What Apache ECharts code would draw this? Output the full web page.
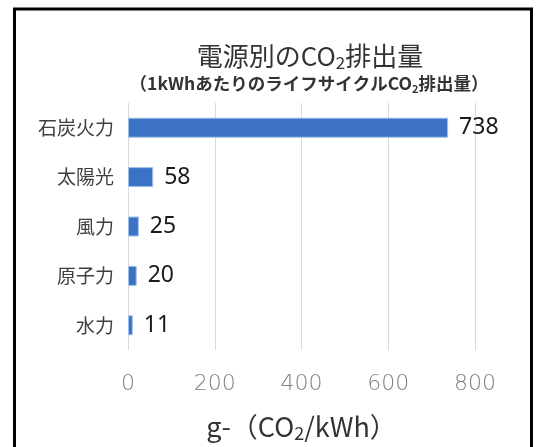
<!DOCTYPE html>
<html><head><meta charset="utf-8">
<script src="https://cdn.jsdelivr.net/npm/echarts@6/dist/echarts.min.js"></script>
<style>html,body{margin:0;padding:0;background:#fff}#c{width:537px;height:447px}</style>
</head><body><div id="c"></div>
<script>
const categories = ['石炭火力', '太陽光', '風力', '原子力', '水力'];
const values = [738, 58, 25, 20, 11];
const xTicks = [0, 200, 400, 600, 800];
const titleText = '電源別のCO{s|2}排出量';
const subtitleText = '（1kWhあたりのライフサイクルCO{s|2}排出量）';
const axisName = 'g-（CO{s|2}/kWh）';

const chart = echarts.init(document.getElementById('c'), null, {renderer: 'canvas'});
const cjk = '"Noto Sans CJK JP", "Noto Sans", sans-serif';
chart.setOption({
  backgroundColor: '#fff',
  animation: false,
  graphic: [{
    type: 'rect', shape: {x: 14.5, y: 9, width: 517, height: 470},
    style: {fill: 'none', stroke: '#000', lineWidth: 3}, silent: true, z: 100
  }],
  title: [{
    text: titleText, left: 305, top: 36, textAlign: 'center',
    textStyle: {fontFamily: cjk, fontSize: 26, fontWeight: 'normal', color: '#333', lineHeight: 30,
      rich: {s: {fontFamily: cjk, fontSize: 17, color: '#333', verticalAlign: 'bottom', lineHeight: 20}}}
  }, {
    text: subtitleText, left: 304, top: 67, textAlign: 'center',
    textStyle: {fontFamily: cjk, fontSize: 17.5, fontWeight: 'bold', color: '#333', lineHeight: 22,
      rich: {s: {fontFamily: cjk, fontSize: 11, fontWeight: 'bold', color: '#333', verticalAlign: 'bottom', lineHeight: 13}}}
  }],
  grid: {left: 128, right: 62, top: 103, bottom: 91, containLabel: false},
  xAxis: {
    type: 'value', min: 0, max: 800, interval: 200,
    axisLine: {show: false}, axisTick: {show: false},
    splitLine: {lineStyle: {color: '#d9d9d9', width: 1}},
    axisLabel: {color: '#808080', fontSize: 22, fontWeight: 'lighter', fontFamily: '"DejaVu Sans", sans-serif', margin: 23,
      formatter: v => xTicks.includes(v) ? String(v) : ''},
    name: axisName, nameLocation: 'middle', nameGap: 62,
    nameTextStyle: {fontFamily: cjk, fontSize: 27, color: '#333', lineHeight: 30,
      rich: {s: {fontFamily: cjk, fontSize: 18, color: '#333', verticalAlign: 'bottom', lineHeight: 20}}}
  },
  yAxis: {
    type: 'category', data: categories, inverse: true,
    axisLine: {show: false}, axisTick: {show: false},
    axisLabel: {color: '#404040', fontSize: 19, fontFamily: cjk, margin: 14}
  },
  series: [{
    type: 'bar', data: values, barWidth: 20,
    itemStyle: {color: '#3b72c4', borderColor: '#9cc0ea', borderWidth: 1},
    label: {show: true, position: 'right', distance: 11, fontSize: 23, color: '#1a1a1a', fontFamily: '"Noto Sans", sans-serif'}
  }]
});
</script></body></html>
